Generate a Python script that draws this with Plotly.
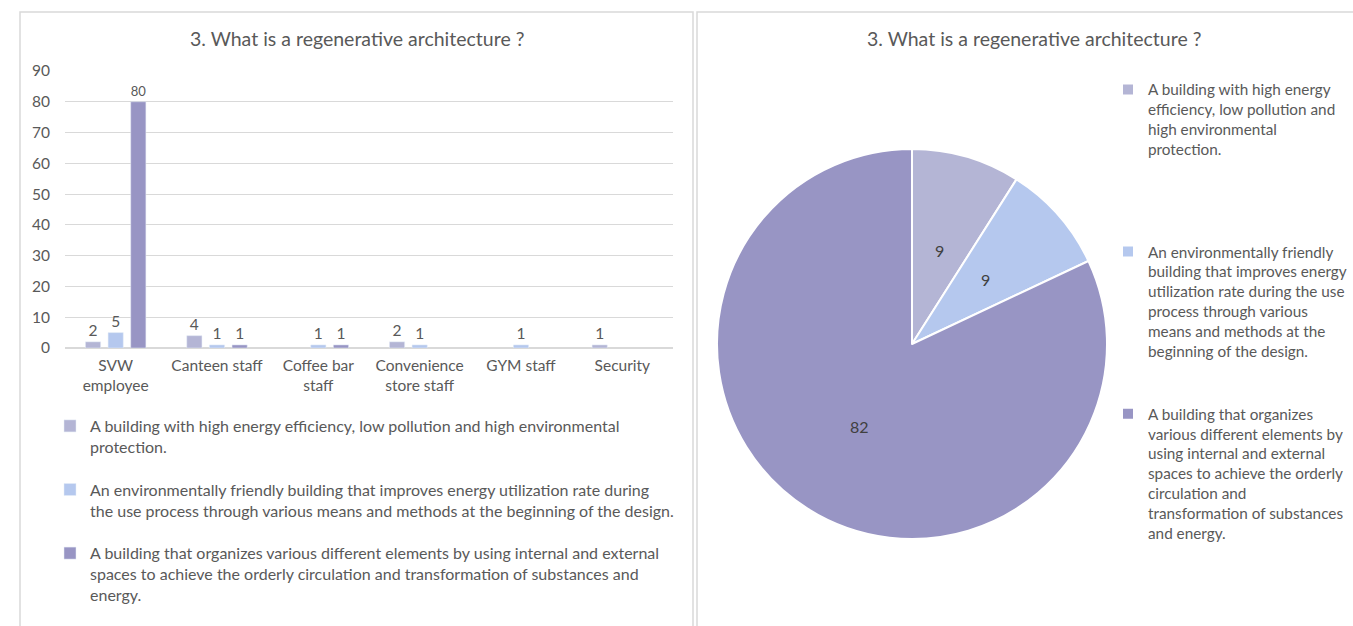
import math
import plotly.graph_objects as go

# ---------------- data ----------------
categories = ["SVW<br>employee", "Canteen staff", "Coffee bar<br>staff",
              "Convenience<br>store staff", "GYM staff", "Security"]

series_names = [
    "A building with high energy efficiency, low pollution and high environmental protection.",
    "An environmentally friendly building that improves energy utilization rate during the use process through various means and methods at the beginning of the design.",
    "A building that organizes various different elements by using internal and external spaces to achieve the orderly circulation and transformation of substances and energy.",
]

s1_values = [2, 4, None, 2, None, 1]
s2_values = [5, 1, 1, 1, 1, None]
s3_values = [80, 1, 1, None, None, None]

pie_values = [9, 9, 82]

bar_legend_labels = [
    "A building with high energy efficiency, low pollution and high environmental<br>protection.",
    "An environmentally friendly building that improves energy utilization rate during<br>the use process through various means and methods at the beginning of the design.",
    "A building that organizes various different elements by using internal and external<br>spaces to achieve the orderly circulation and transformation of substances and<br>energy.",
]
pie_legend_labels = [
    "A building with high energy<br>efficiency, low pollution and<br>high environmental<br>protection.<br> <br> <br> <br> ",
    "An environmentally friendly<br>building that improves energy<br>utilization rate during the use<br>process through various<br>means and methods at the<br>beginning of the design.<br> <br> ",
    "A building that organizes<br>various different elements by<br>using internal and external<br>spaces to achieve the orderly<br>circulation and<br>transformation of substances<br>and energy.",
]

colors = ["#B4B5D5", "#B5C8EE", "#9895C4"]

W, H = 1353, 626
def px(x):
    return x / W
def py(y):
    return 1 - y / H

FONT = "Lato"
GREY = "#595959"

fig = go.Figure()

for vals, name, col in zip([s1_values, s2_values, s3_values], bar_legend_labels, colors):
    fig.add_trace(go.Bar(
        x=categories, y=vals, name=name, marker_color=col,
        text=[("" if v is None else str(v)) for v in vals],
        textposition="outside", cliponaxis=False,
        textfont=dict(color=GREY, size=15.5, family=FONT),
        legend="legend", legendgroup=name,
    ))

# pie geometry (pixels)
PIE_CX, PIE_CY, PIE_R = 912, 344, 195
fig.add_trace(go.Pie(
    labels=pie_legend_labels, values=pie_values, sort=False,
    direction="clockwise", rotation=0,
    marker=dict(colors=colors, line=dict(color="white", width=2)),
    textinfo="none",
    domain=dict(x=[px(PIE_CX - PIE_R), px(PIE_CX + PIE_R)],
                y=[py(PIE_CY + PIE_R), py(PIE_CY - PIE_R)]),
    legend="legend2", showlegend=True,
))

# pie value labels placed at half radius, at each slice's mid-angle
annotations = []
total = sum(pie_values)
cum = 0
for v in pie_values:
    mid = (cum + v / 2) / total * 2 * math.pi
    cum += v
    lx = PIE_CX + 0.5 * PIE_R * math.sin(mid)
    ly = PIE_CY - 0.5 * PIE_R * math.cos(mid)
    annotations.append(dict(text=str(v), x=px(lx), y=py(ly), xref="paper", yref="paper",
                            xanchor="center", yanchor="middle", showarrow=False,
                            font=dict(size=16, color="#404040", family=FONT)))

for cx in (357, 1034):
    annotations.append(dict(text="3. What is a regenerative architecture ?",
                            x=px(cx), y=py(39), xref="paper", yref="paper",
                            xanchor="center", yanchor="middle", showarrow=False,
                            font=dict(size=19.5, color=GREY, family=FONT)))

fig.update_layout(
    width=W, height=H, autosize=False,
    margin=dict(l=0, r=0, t=0, b=0, autoexpand=False),
    paper_bgcolor="white", plot_bgcolor="white",
    font=dict(family=FONT, color=GREY, size=15.5),
    barmode="group", bargap=0.33, bargroupgap=0.33,
    xaxis=dict(domain=[px(65), px(673)], showgrid=False, ticks="",
               tickfont=dict(size=15.5, color=GREY), showline=False,
               ticklabelstandoff=6),
    yaxis=dict(domain=[py(348), py(71)], range=[0, 90], dtick=10,
               showgrid=True, gridcolor="#D9D9D9", gridwidth=1,
               zeroline=True, zerolinecolor="#D9D9D9", ticks="",
               tickfont=dict(size=15.5, color=GREY), ticklabelstandoff=14),
    legend=dict(x=px(50), y=py(409), xanchor="left", yanchor="top",
                valign="top", tracegroupgap=19, itemwidth=30,
                font=dict(size=16, color=GREY, family=FONT),
                bgcolor="rgba(0,0,0,0)"),
    legend2=dict(x=px(1108), y=py(73), xanchor="left", yanchor="top",
                 valign="top", itemwidth=30,
                 font=dict(size=15.3, color=GREY, family=FONT),
                 bgcolor="rgba(0,0,0,0)"),
    annotations=annotations,
    shapes=[
        dict(type="rect", xref="paper", yref="paper",
             x0=px(20), x1=px(693), y0=py(640), y1=py(12),
             line=dict(color="#D9D9D9", width=1.5)),
        dict(type="rect", xref="paper", yref="paper",
             x0=px(697), x1=px(1360), y0=py(640), y1=py(12),
             line=dict(color="#D9D9D9", width=1.5)),
    ],
)

fig.write_html("out.html",
               config={"responsive": False, "displayModeBar": False},
               post_script="document.body.style.margin='0';document.body.style.overflow='hidden';")
